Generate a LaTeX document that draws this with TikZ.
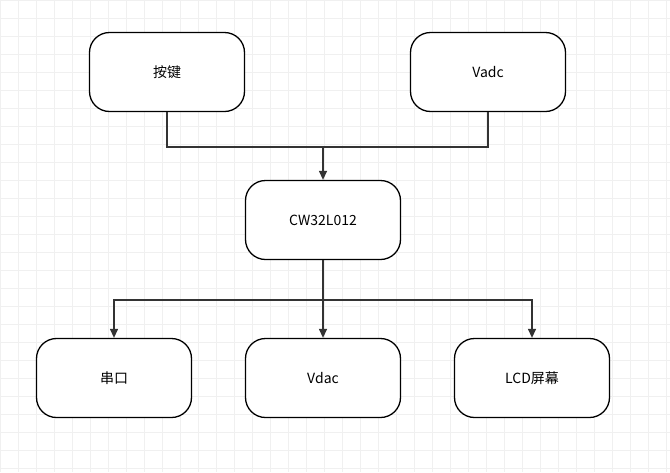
\documentclass[tikz,border=0pt]{standalone}
\usepackage{fontspec}
\setmainfont{Noto Sans CJK SC}
\usetikzlibrary{arrows.meta}
\begin{document}
\begin{tikzpicture}[x=1pt,y=-1pt,
  box/.style={draw=black,line width=1.3pt,rounded corners=20pt,minimum width=155pt,minimum height=79pt,fill=white,font=\fontsize{14}{16}\selectfont},
  con/.style={line width=1.3pt,draw=black!80},
  arr/.style={con,-{Triangle[length=9pt,width=8pt]}}]
\useasboundingbox (0,0) rectangle (670,472);
\fill[white] (0,0) rectangle (670,472);
\foreach \i in {0,...,37} {\draw[black!6,line width=0.5pt] (\i*18,0) -- (\i*18,472);}
\foreach \i in {0,...,26} {\draw[black!6,line width=0.5pt] (0,\i*18) -- (670,\i*18);}
\node[box] (k) at (167,72) {按键};
\node[box] (va) at (488,72) {Vadc};
\node[box] (cw) at (323,220) {CW32L012};
\node[box] (ck) at (114,378) {串口};
\node[box] (vd) at (323,378) {Vdac};
\node[box] (lcd) at (532,378) {LCD屏幕};
\coordinate (j1) at (323,147);
\coordinate (j2) at (323,300);
\draw[con] (k.south) |- (j1);
\draw[con] (va.south) |- (j1);
\draw[arr] (j1) -- (cw.north);
\draw[con] (cw.south) -- (j2);
\draw[arr] (j2) -| (ck.north);
\draw[arr] (j2) -- (vd.north);
\draw[arr] (j2) -| (lcd.north);
\end{tikzpicture}
\end{document}
